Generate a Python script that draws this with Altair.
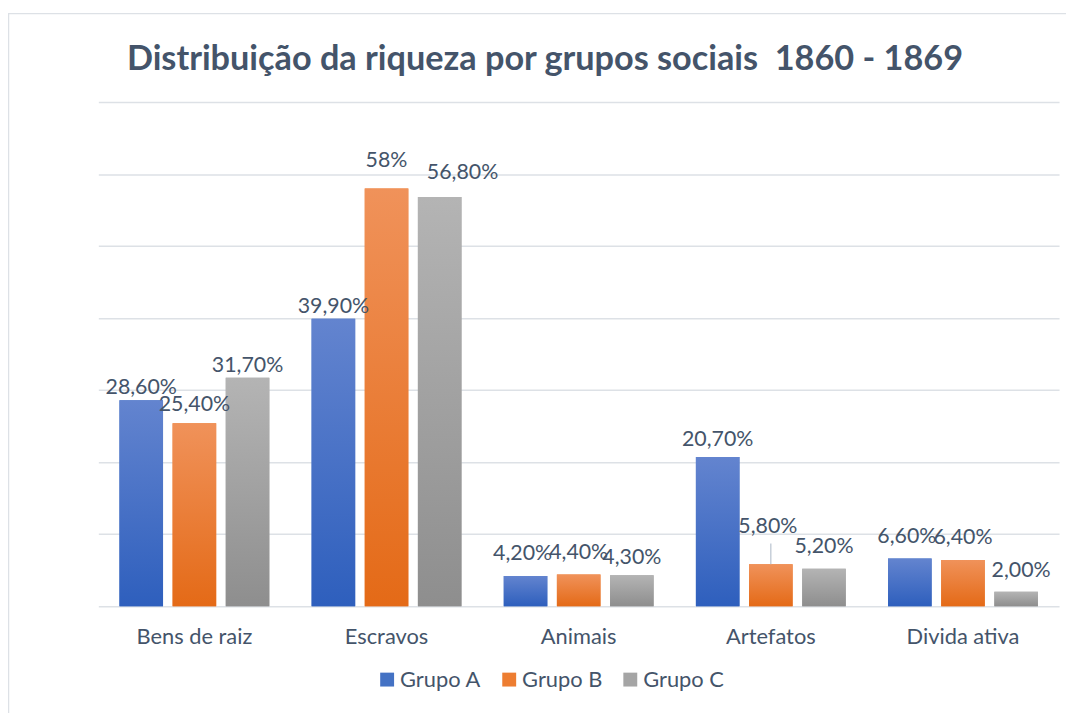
import altair as alt
import pandas as pd

title_text = ["Distribuição da riqueza por grupos sociais \u00a01860 - 1869"]
categories = ["Bens de raiz", "Escravos", "Animais", "Artefatos", "Divida ativa"]
groups = ["Grupo A", "Grupo B", "Grupo C"]
grupo_a = [28.6, 39.9, 4.2, 20.7, 6.6]
grupo_b = [25.4, 58.0, 4.4, 5.8, 6.4]
grupo_c = [31.7, 56.8, 4.3, 5.2, 2.0]
labels_a = ["28,60%", "39,90%", "4,20%", "20,70%", "6,60%"]
labels_b = ["25,40%", "58%", "4,40%", "5,80%", "6,40%"]
labels_c = ["31,70%", "56,80%", "4,30%", "5,20%", "2,00%"]

rows = []
for vals, labs, g in [(grupo_a, labels_a, "Grupo A"), (grupo_b, labels_b, "Grupo B"), (grupo_c, labels_c, "Grupo C")]:
    for c, v, l in zip(categories, vals, labs):
        rows.append({"Categoria": c, "Grupo": g, "Valor": v, "Rotulo": l, "Chave": c + "|" + g})
df = pd.DataFrame(rows)

TXT = "#44546A"
FONT = "Lato"
W, H = 968, 508
PX = 70 / H  # data units per pixel on the y scale

x_enc = alt.X("Categoria:N", sort=categories, title=None,
              scale=alt.Scale(paddingInner=0.22, paddingOuter=0.11),
              axis=alt.Axis(labelFontSize=22, labelFont=FONT, labelColor=TXT,
                            labelPadding=21, ticks=False, tickSize=0, domain=False,
                            labelAngle=0))
xo_enc = alt.XOffset("Grupo:N", sort=groups,
                     scale=alt.Scale(domain=groups, paddingInner=0.18, paddingOuter=0))
y_enc = alt.Y("Valor:Q", title=None,
              scale=alt.Scale(domain=[0, 70], nice=False),
              axis=alt.Axis(values=[0, 10, 20, 30, 40, 50, 60, 70], labels=False,
                            ticks=False, domain=False, grid=True,
                            gridColor="#DDE1E6", gridWidth=1.5))

base = alt.Chart(df)

legend_bars = base.mark_bar().encode(
    x=x_enc, xOffset=xo_enc, y=y_enc,
    color=alt.Color("Grupo:N", sort=groups,
                    scale=alt.Scale(domain=groups, range=["#4472C4", "#ED7D31", "#A5A5A5"]),
                    legend=alt.Legend(title=None, orient="none", direction="horizontal",
                                      legendX=280, legendY=571, symbolType="square",
                                      symbolSize=196, symbolStrokeWidth=0,
                                      labelFontSize=22, labelFont=FONT, labelColor=TXT,
                                      labelOffset=2, columnPadding=17, padding=0)),
)

def grad(top, bottom):
    return alt.LinearGradient(gradient="linear", x1=0, x2=0, y1=0, y2=1,
                              stops=[alt.GradientStop(color=top, offset=0),
                                     alt.GradientStop(color=bottom, offset=1)])

grads = {
    "Grupo A": grad("#6384CF", "#2E5FBD"),
    "Grupo B": grad("#F0925A", "#E46A17"),
    "Grupo C": grad("#B4B4B4", "#8E8E8E"),
}

grad_layers = [
    base.transform_filter(alt.datum.Grupo == g).mark_bar(color=grads[g]).encode(
        x=x_enc, xOffset=xo_enc, y=y_enc)
    for g in groups
]

# label placement nudges (as positioned in the original spreadsheet chart)
label_nudges = [
    (-6, 0, ["Bens de raiz|Grupo A", "Bens de raiz|Grupo C", "Escravos|Grupo A"]),
    (-12, 0, ["Bens de raiz|Grupo B"]),
    (-22, 0, ["Escravos|Grupo B"]),
    (-18, 23, ["Escravos|Grupo C"]),
    (-11, 0, ["Animais|Grupo C", "Artefatos|Grupo A"]),
    (-16, -3, ["Animais|Grupo A", "Divida ativa|Grupo A"]),
    (-16, 0, ["Animais|Grupo B", "Artefatos|Grupo C", "Divida ativa|Grupo B"]),
    (-15, 5, ["Divida ativa|Grupo C"]),
    (-32, -3, ["Artefatos|Grupo B"]),
]

text_layers = [
    base.transform_filter(alt.FieldOneOfPredicate(field="Chave", oneOf=keys)).mark_text(
        baseline="alphabetic", dy=dy, dx=dx, fontSize=21.5, font=FONT, color=TXT).encode(
        x=x_enc, xOffset=xo_enc, y=y_enc, text="Rotulo:N")
    for dy, dx, keys in label_nudges
]

leader = base.transform_filter(alt.datum.Chave == "Artefatos|Grupo B").transform_calculate(
    topo=f"datum.Valor + {21 * PX}").mark_rule(color="#B8C2CF", strokeWidth=1.2).encode(
    x=x_enc, xOffset=xo_enc, y=y_enc, y2="topo:Q")

frame = alt.Chart(pd.DataFrame({"a": [0]})).mark_rect(
    fillOpacity=0, stroke="#DDE1E6", strokeWidth=1.5).encode(
    x=alt.value(-90.5), x2=alt.value(1100), y=alt.value(-89), y2=alt.value(700))

title = alt.Chart(pd.DataFrame({"t": title_text})).mark_text(
    fontSize=34.5, font=FONT, fontWeight="bold", color=TXT,
    align="center", baseline="alphabetic").encode(
    text="t:N", x=alt.value(450), y=alt.value(-32))

chart = alt.layer(frame, legend_bars, *grad_layers, leader, *text_layers, title).properties(
    width=W, height=H,
    autosize=alt.AutoSizeParams(type="none"),
    padding={"left": 91, "top": 92, "right": 7, "bottom": 105},
).configure_view(stroke=None)

chart.save("out.html", embed_options={"renderer": "svg", "actions": False})
